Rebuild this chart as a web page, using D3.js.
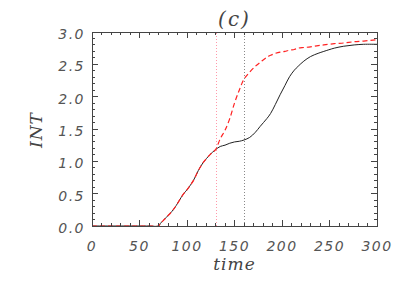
<!DOCTYPE html>
<html>
<head>
<meta charset="utf-8">
<script src="https://cdn.jsdelivr.net/npm/d3@7"></script>
<style>
  body { margin: 0; background: #fff; }
  .tick-label { font-family: "DejaVu Sans", sans-serif; font-style: italic; font-weight: 200; font-size: 14px; letter-spacing: 1.5px; fill: #555; }
  .axis-title { font-family: "DejaVu Serif", serif; font-style: italic; font-weight: 200; font-size: 17px; letter-spacing: 1px; fill: #444; }
</style>
</head>
<body>
<script>
var time = [0, 60, 70, 72, 78, 86, 96, 100, 103, 107, 112, 117, 124, 130, 135, 140, 145, 150, 155, 160, 166,
            172, 177, 184, 188, 193, 198, 203, 208, 213, 217, 223, 230, 238, 244, 255, 265, 276, 286, 300];
var intBlack = [0, 0, 0, 0.04, 0.13, 0.26, 0.49, 0.56, 0.62, 0.71, 0.86, 0.98, 1.10, 1.18, 1.23, 1.25, 1.28, 1.30, 1.31, 1.33, 1.37,
                1.45, 1.54, 1.66, 1.74, 1.88, 2.03, 2.17, 2.31, 2.41, 2.47, 2.55, 2.62, 2.67, 2.70, 2.75, 2.78, 2.80, 2.81, 2.81];
var intRed = [0, 0, 0, 0.04, 0.13, 0.26, 0.49, 0.56, 0.62, 0.71, 0.86, 0.98, 1.10, 1.18, 1.35, 1.48, 1.66, 1.90, 2.10, 2.27, 2.38,
              2.47, 2.53, 2.61, 2.64, 2.67, 2.69, 2.70, 2.72, 2.73, 2.75, 2.76, 2.77, 2.79, 2.80, 2.82, 2.83, 2.85, 2.86, 2.88];
var markers = [130, 160];
var xTicks = [0, 50, 100, 150, 200, 250, 300];
var yTicks = [0.0, 0.5, 1.0, 1.5, 2.0, 2.5, 3.0];

var width = 407,
    height = 291,
    margin = {top: 32, right: 30, bottom: 65, left: 92};

var svg = d3.select("body").append("svg")
    .attr("width", width)
    .attr("height", height);

var x = d3.scaleLinear().domain([0, 300]).range([margin.left, width - margin.right]);
var y = d3.scaleLinear().domain([0, 3]).range([height - margin.bottom, margin.top]);

// vertical dotted markers
svg.selectAll(".marker")
    .data(markers)
  .enter().append("line")
    .attr("x1", function(d) { return Math.round(x(d)) + 0.5; })
    .attr("x2", function(d) { return Math.round(x(d)) + 0.5; })
    .attr("y1", y(0))
    .attr("y2", y(3))
    .attr("stroke", function(d, i) { return i == 0 ? "#f9a" : "#888"; })
    .attr("stroke-width", 1)
    .attr("shape-rendering", "crispEdges")
    .attr("stroke-dasharray", "1,2");

var line = function(vals) {
  return d3.line()
      .x(function(d, i) { return x(time[i]); })
      .y(function(d) { return y(d); })
      .curve(d3.curveCatmullRom)(vals);
};

svg.append("path")
    .attr("d", line(intBlack))
    .attr("fill", "none")
    .attr("stroke", "#222")
    .attr("stroke-width", 1);

svg.append("path")
    .attr("d", line(intRed))
    .attr("fill", "none")
    .attr("stroke", "#f22")
    .attr("stroke-width", 1.2)
    .attr("stroke-dasharray", "5,3");

// box with inward ticks on all sides
var ax = svg.append("g").attr("stroke", "#444").attr("fill", "none").attr("shape-rendering", "crispEdges");
ax.append("rect")
    .attr("x", x(0)).attr("y", y(3))
    .attr("width", x(300) - x(0)).attr("height", y(0) - y(3))
    .attr("stroke-width", 1);

d3.range(0, 301, 10).forEach(function(t) {
  var len = t % 50 == 0 ? 6 : 3;
  ax.append("line").attr("x1", x(t)).attr("x2", x(t)).attr("y1", y(0)).attr("y2", y(0) - len);
  ax.append("line").attr("x1", x(t)).attr("x2", x(t)).attr("y1", y(3)).attr("y2", y(3) + len);
});
d3.range(0, 31).forEach(function(k) {
  var v = k / 10, len = k % 5 == 0 ? 6 : 3;
  ax.append("line").attr("x1", x(0)).attr("x2", x(0) + len).attr("y1", y(v)).attr("y2", y(v));
  ax.append("line").attr("x1", x(300)).attr("x2", x(300) - len).attr("y1", y(v)).attr("y2", y(v));
});

svg.selectAll(".xl")
    .data(xTicks)
  .enter().append("text")
    .attr("class", "tick-label")
    .attr("x", function(d) { return x(d); })
    .attr("y", y(0) + 25)
    .attr("text-anchor", "middle")
    .text(function(d) { return d; });

svg.selectAll(".yl")
    .data(yTicks)
  .enter().append("text")
    .attr("class", "tick-label")
    .attr("x", x(0) - 7)
    .attr("y", function(d) { return y(d) + 7; })
    .attr("text-anchor", "end")
    .text(function(d) { return d.toFixed(1); });

svg.append("text")
    .attr("class", "axis-title")
    .attr("x", (x(0) + x(300)) / 2)
    .attr("y", height - 21)
    .attr("text-anchor", "middle")
    .text("time");

svg.append("text")
    .attr("class", "axis-title")
    .attr("transform", "translate(42," + (y(1.5) + 1) + ") rotate(-90)")
    .attr("text-anchor", "middle")
    .text("INT");

svg.append("text")
    .attr("class", "axis-title")
    .attr("x", (x(0) + x(300)) / 2)
    .attr("y", 26)
    .attr("text-anchor", "middle")
    .style("font-size", "20px")
    .style("letter-spacing", "2px")
    .text("(c)");
</script>
</body>
</html>
